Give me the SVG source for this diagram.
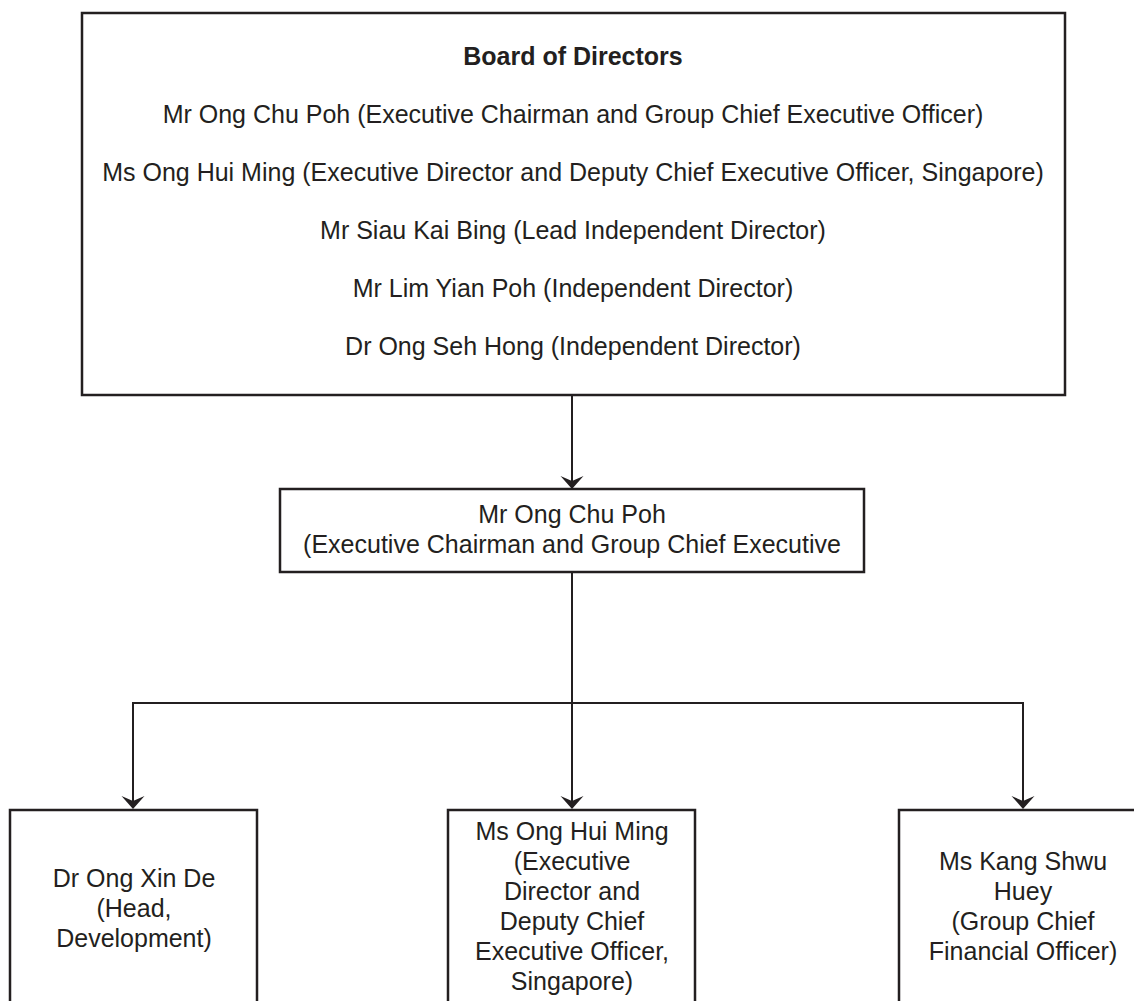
<svg xmlns="http://www.w3.org/2000/svg" width="1134" height="1001" viewBox="0 0 1134 1001">
<style>
.box{fill:#fff;stroke:#231f20;stroke-width:2.5}
.t{font-family:"Liberation Sans",Arial,sans-serif;font-size:25px;fill:#231f20;text-anchor:middle}
.b{font-weight:bold}
.c{fill:none;stroke:#231f20;stroke-width:2}
.ah{fill:#231f20}
</style>
<defs>
<path id="arr" d="M0 0 L-11.5 -13 L0 -8 L11.5 -13 Z"/>
</defs>
<rect x="0" y="0" width="1134" height="1001" fill="#fff"/>
<g id="connectors">
<path class="c" d="M572 395 V482"/>
<path class="c" d="M572 572 V802"/>
<path class="c" d="M133 802 V703 H1023 V802"/>
<use href="#arr" class="ah" x="572" y="489"/>
<use href="#arr" class="ah" x="133" y="809"/>
<use href="#arr" class="ah" x="572" y="809"/>
<use href="#arr" class="ah" x="1023" y="809"/>
</g>
<g id="board">
<rect class="box" x="82" y="13" width="983" height="382"/>
<text class="t b" x="573" y="65">Board of Directors</text>
<text class="t" x="573" y="123">Mr Ong Chu Poh (Executive Chairman and Group Chief Executive Officer)</text>
<text class="t" x="573" y="181">Ms Ong Hui Ming (Executive Director and Deputy Chief Executive Officer, Singapore)</text>
<text class="t" x="573" y="239">Mr Siau Kai Bing (Lead Independent Director)</text>
<text class="t" x="573" y="297">Mr Lim Yian Poh (Independent Director)</text>
<text class="t" x="573" y="355">Dr Ong Seh Hong (Independent Director)</text>
</g>
<g id="ceo">
<rect class="box" x="280" y="489" width="584" height="83"/>
<text class="t" x="572" y="523">Mr Ong Chu Poh</text>
<text class="t" x="572" y="553">(Executive Chairman and Group Chief Executive</text>
</g>
<g id="head-dev">
<rect class="box" x="10" y="810" width="247" height="210"/>
<text class="t" x="134" y="887">Dr Ong Xin De</text>
<text class="t" x="134" y="917">(Head,</text>
<text class="t" x="134" y="947">Development)</text>
</g>
<g id="deputy-ceo">
<rect class="box" x="448" y="810" width="247" height="210"/>
<text class="t" x="572" y="840">Ms Ong Hui Ming</text>
<text class="t" x="572" y="870">(Executive</text>
<text class="t" x="572" y="900">Director and</text>
<text class="t" x="572" y="930">Deputy Chief</text>
<text class="t" x="572" y="960">Executive Officer,</text>
<text class="t" x="572" y="990">Singapore)</text>
</g>
<g id="cfo">
<rect class="box" x="899" y="810" width="248" height="210"/>
<text class="t" x="1023" y="870">Ms Kang Shwu</text>
<text class="t" x="1023" y="900">Huey</text>
<text class="t" x="1023" y="930">(Group Chief</text>
<text class="t" x="1023" y="960">Financial Officer)</text>
</g>
</svg>
